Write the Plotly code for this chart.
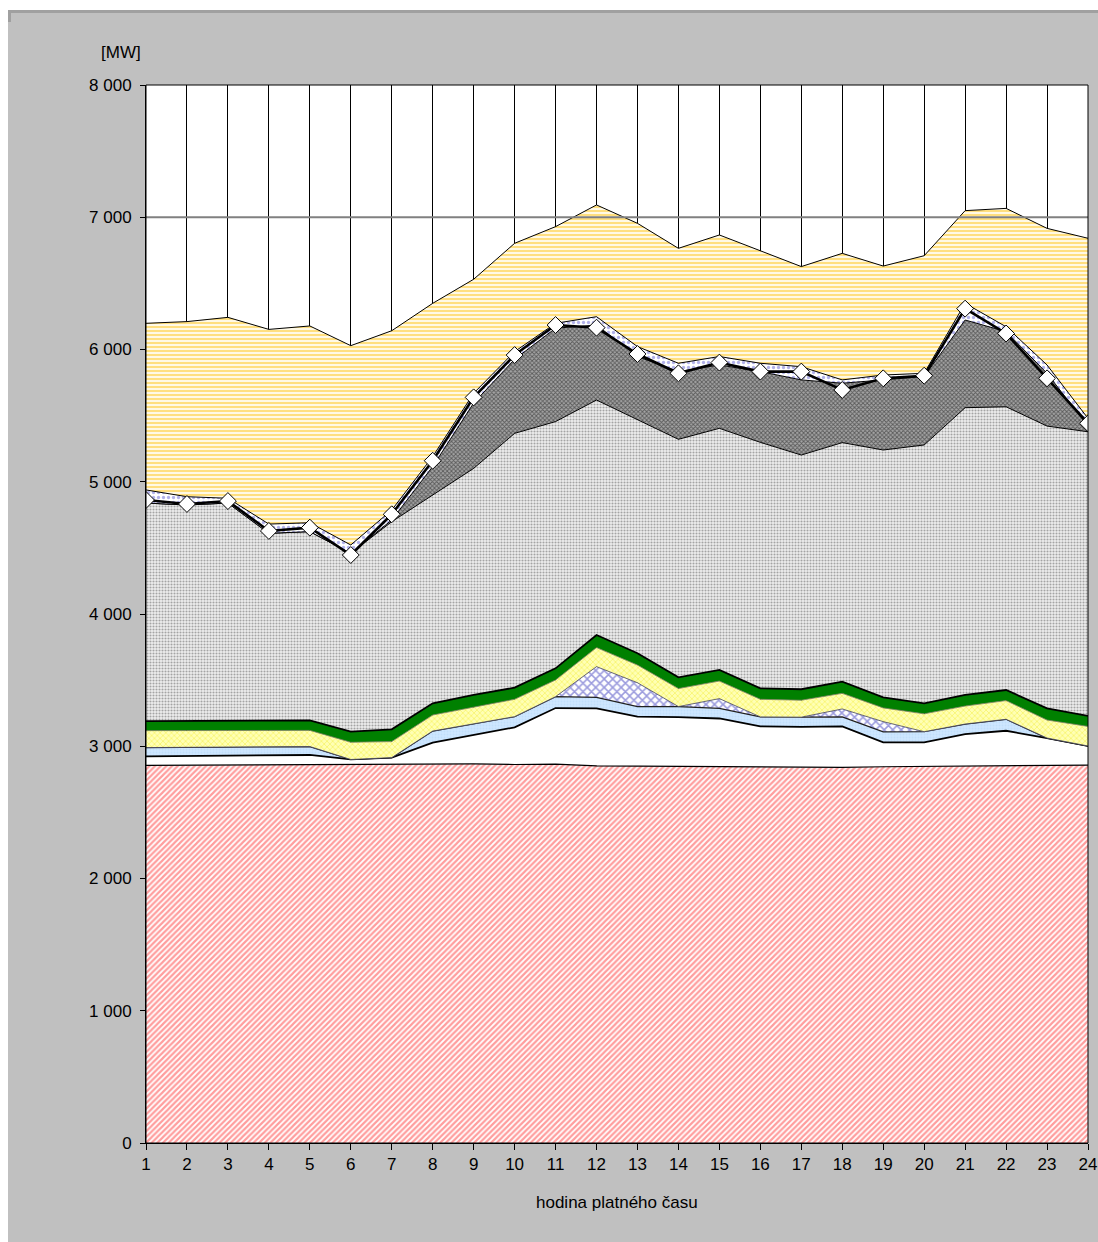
import plotly.graph_objects as go

# Hodinová skladba výroby a zatížení [MW]
hours = list(range(1, 25))

red_base = [2855, 2857, 2858, 2860, 2862, 2862, 2864, 2868, 2866, 2862, 2865, 2852,
            2850, 2847, 2845, 2842, 2840, 2840, 2845, 2847, 2850, 2852, 2856, 2858]
white_band = [69, 69, 70, 70, 72, 38, 50, 159, 219, 281, 424, 434,
              374, 373, 365, 308, 307, 310, 185, 183, 242, 265, 206, 144]
light_blue = [66, 66, 66, 66, 64, 0, 0, 88, 83, 81, 86, 84,
              76, 80, 77, 72, 73, 72, 78, 80, 76, 87, 0, 0]
cross_blue = [0, 0, 0, 0, 0, 0, 0, 0, 0, 0, 0, 232,
              180, 0, 73, 0, 0, 60, 78, 0, 0, 0, 0, 0]
yellow_zigzag = [128, 126, 126, 124, 122, 130, 121, 121, 126, 131, 126, 144,
                 134, 136, 133, 133, 128, 118, 104, 135, 136, 141, 136, 148]
green_band = [72, 74, 74, 73, 75, 80, 93, 89, 94, 88, 88, 95,
              89, 85, 84, 83, 83, 89, 80, 80, 84, 80, 89, 79]
gray_dots = [1649, 1632, 1645, 1417, 1428, 1349, 1570, 1575, 1713, 1923, 1866, 1777,
             1764, 1800, 1827, 1860, 1771, 1807, 1870, 1953, 2172, 2142, 2134, 2149]
dark_checker = [0, 0, 0, 0, 0, 0, 13, 215, 494, 560, 706, 567,
                480, 512, 479, 535, 568, 449, 530, 518, 663, 568, 399, 40]
blue_dots = [99, 63, 36, 70, 67, 63, 75, 75, 74, 58, 37, 63,
             75, 63, 64, 63, 100, 25, 37, 24, 126, 37, 63, 61]
yellow_lines = [1260, 1324, 1368, 1472, 1488, 1507, 1356, 1159, 862, 819, 731, 845,
                932, 869, 919, 852, 757, 957, 824, 889, 701, 895, 1033, 1362]
load = [4862, 4832, 4854, 4628, 4653, 4446, 4754, 5159, 5638, 5958, 6185, 6165,
        5966, 5820, 5901, 5833, 5833, 5694, 5782, 5802, 6309, 6121, 5782, 5442]

y_ticks = list(range(0, 8001, 1000))
x_title = "hodina platného času"
y_unit = "[MW]"

FONT = "Liberation Sans, Arial, sans-serif"
FS = 17

# (name, values, fill pattern, line colour, line width)
layers = [
    ("vrstva 1", red_base, dict(shape="/", fgcolor="#ff3c3c", bgcolor="#ffffff", size=4, solidity=0.55), "#000000", 1.2),
    ("vrstva 2", white_band, None, "#000000", 1.8),
    ("vrstva 3", light_blue, dict(shape=".", fgcolor="#b4d8f8", bgcolor="#cfe7ff", size=3, solidity=0.4), "#202020", 1.3),
    ("vrstva 4", cross_blue, dict(shape="x", fgcolor="#3838bc", bgcolor="#ffffff", size=6, solidity=0.45), "#404060", 0.8),
    ("vrstva 5", yellow_zigzag, dict(shape="x", fgcolor="#f0ea20", bgcolor="#ffffb4", size=4, solidity=0.35), "#808060", 0.8),
    ("vrstva 6", green_band, None, "#000000", 1.8),
    ("vrstva 7", gray_dots, dict(shape=".", fgcolor="#5a5a5a", bgcolor="#eeeeee", size=3, solidity=0.4), "#000000", 1.0),
    ("vrstva 8", dark_checker, dict(shape="x", fgcolor="#111111", bgcolor="#a4a4a4", size=3, solidity=0.5), "#000000", 1.0),
    ("vrstva 9", blue_dots, dict(shape=".", fgcolor="#6464d4", bgcolor="#ffffff", size=5, solidity=0.35), "#000000", 1.0),
    ("vrstva 10", yellow_lines, dict(shape="-", fgcolor="#ffbf00", bgcolor="#ffffff", size=4, solidity=0.6), "#000000", 1.0),
]
fills = {"vrstva 2": "#ffffff", "vrstva 6": "#008000"}

fig = go.Figure()
for name, vals, pattern, lcol, lw in layers:
    kw = dict(
        x=hours, y=vals, name=name, mode="lines", stackgroup="mix",
        line=dict(color=lcol, width=lw, shape="linear"),
        showlegend=False, hoverinfo="skip",
    )
    if pattern is not None:
        kw["fillpattern"] = pattern
        kw["fillcolor"] = pattern["bgcolor"]
    else:
        kw["fillcolor"] = fills[name]
    fig.add_trace(go.Scatter(**kw))

fig.add_trace(go.Scatter(
    x=hours, y=load, name="zatížení", mode="lines+markers",
    line=dict(color="#000000", width=2.6),
    marker=dict(symbol="diamond", size=13, color="#ffffff",
                line=dict(color="#000000", width=1)),
    showlegend=False, hoverinfo="skip",
))

W, H = 1098, 1242
L, R, T, B = 146, 10, 85, 99
pw, ph = W - L - R, H - T - B


def px_x(p):
    return (p - L) / pw


def px_y(p):
    return (H - B - p) / ph


shapes = [
    # white page margin around the grey chart area
    dict(type="rect", xref="paper", yref="paper", x0=px_x(0), x1=px_x(W), y0=px_y(10), y1=px_y(0),
         fillcolor="#ffffff", line=dict(width=0), layer="above"),
    dict(type="rect", xref="paper", yref="paper", x0=px_x(0), x1=px_x(8), y0=px_y(H), y1=px_y(0),
         fillcolor="#ffffff", line=dict(width=0), layer="above"),
    dict(type="rect", xref="paper", yref="paper", x0=px_x(8), x1=px_x(W), y0=px_y(13), y1=px_y(10),
         fillcolor="#a0a0a0", line=dict(width=0), layer="above"),
    dict(type="rect", xref="paper", yref="paper", x0=px_x(8), x1=px_x(11), y0=px_y(22), y1=px_y(10),
         fillcolor="#a0a0a0", line=dict(width=0), layer="above"),
    # 7 000 MW reference line
    dict(type="line", xref="paper", yref="y", x0=0, x1=1, y0=7000, y1=7000,
         line=dict(color="#808080", width=2), layer="above"),
    # plot frame
    dict(type="rect", xref="paper", yref="paper", x0=0, x1=1, y0=0, y1=1,
         line=dict(color="#000000", width=1), fillcolor="rgba(0,0,0,0)", layer="above"),
]

annotations = [
    dict(text=y_unit, xref="paper", yref="paper", x=px_x(121), y=px_y(53),
         showarrow=False, font=dict(family=FONT, size=FS, color="#000000"),
         xanchor="center", yanchor="middle"),
    dict(text=x_title, xref="paper", yref="paper", x=0.5, y=px_y(1202),
         showarrow=False, font=dict(family=FONT, size=FS, color="#000000"),
         xanchor="center", yanchor="middle"),
]

fig.update_layout(
    width=W, height=H,
    margin=dict(l=L, r=R, t=T, b=B, autoexpand=False),
    paper_bgcolor="#c0c0c0",
    plot_bgcolor="#ffffff",
    font=dict(family=FONT, size=FS, color="#000000"),
    shapes=shapes,
    annotations=annotations,
    xaxis=dict(
        range=[1, 24], tickmode="array", tickvals=hours, ticktext=[str(h) for h in hours],
        showgrid=True, gridcolor="#000000", gridwidth=1,
        showline=True, linecolor="#000000", linewidth=1,
        ticks="outside", ticklen=6, tickcolor="#000000", tickwidth=1,
        zeroline=False, automargin=False,
        tickfont=dict(family=FONT, size=FS, color="#000000"),
    ),
    yaxis=dict(
        range=[0, 8000], tickmode="array", tickvals=y_ticks,
        ticktext=[f"{v:,}".replace(",", " ") for v in y_ticks],
        showgrid=False,
        showline=True, linecolor="#000000", linewidth=1,
        ticks="outside", ticklen=5, tickcolor="#000000", tickwidth=1,
        zeroline=False, automargin=False, ticklabelstandoff=5,
        tickfont=dict(family=FONT, size=FS, color="#000000"),
    ),
)

fig.write_html("out.html")
